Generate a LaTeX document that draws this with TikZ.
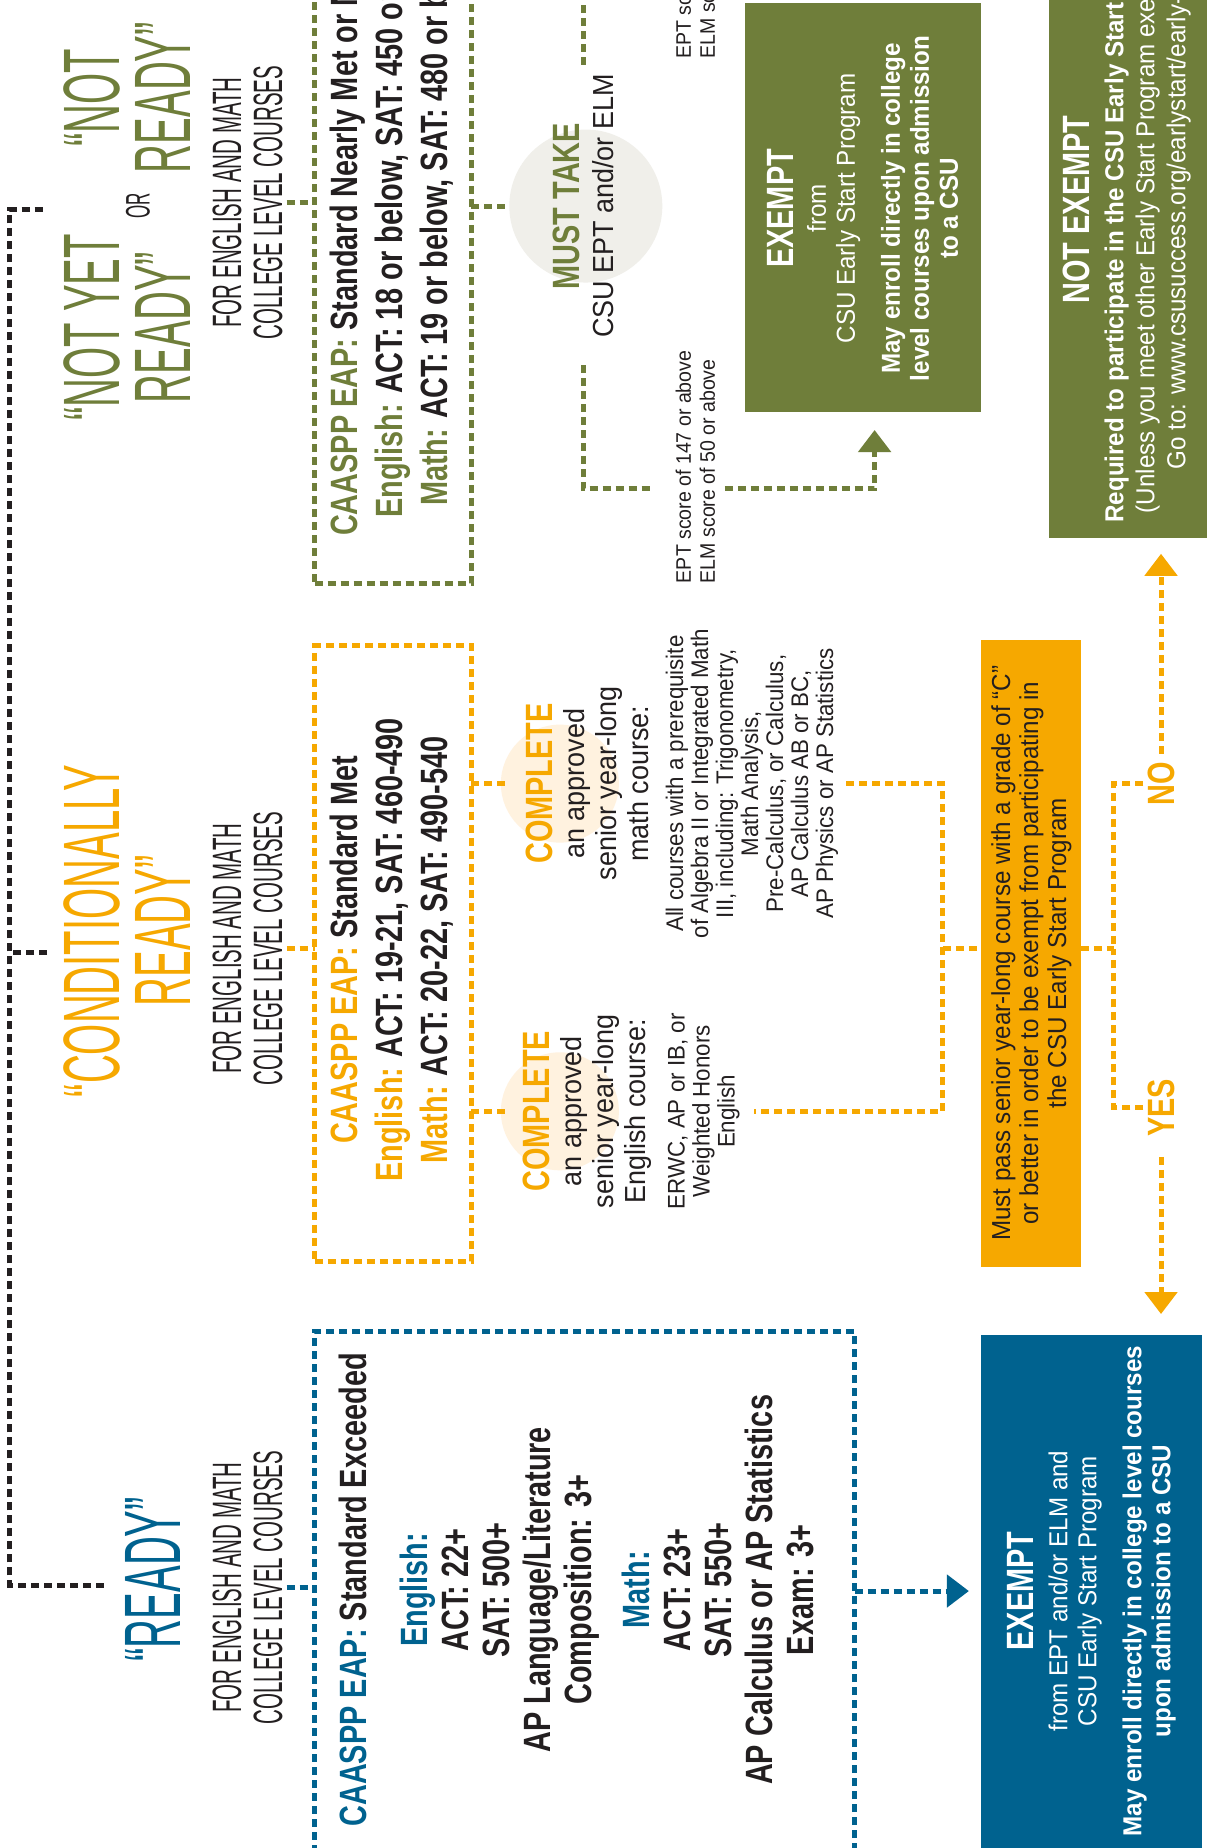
\documentclass[tikz,border=0pt]{standalone}
\usepackage{fontspec}
\setmainfont[FakeStretch=0.93]{Liberation Sans}
\newfontfamily\handfont[FakeStretch=0.5]{Liberation Sans}
\newfontfamily\condfont[FakeStretch=0.76]{Liberation Sans}
\usetikzlibrary{arrows.meta}
\definecolor{eapgreen}{HTML}{6F7E3A}
\definecolor{eaporange}{HTML}{F6A800}
\definecolor{eapblue}{HTML}{00628F}
\definecolor{eapblack}{HTML}{231F20}
\definecolor{mustgray}{HTML}{F0EFEA}
\definecolor{cmplight}{HTML}{FFF2DF}
\newcommand\headword[2]{{\condfont\bfseries\fontsize{38}{40}\selectfont\color{#1}#2}}
\tikzset{
  dashln/.style={line width=5pt, dash pattern=on 8pt off 5pt},
  arrowtip/.style={-{Triangle[width=32pt,length=22pt]}},
  titletxt/.style={inner sep=0pt, align=center, font=\handfont\fontsize{80}{71}\selectfont},
  subtxt/.style={inner sep=0pt, align=center, text=eapblack, font=\handfont\fontsize{41}{41}\selectfont},
  eaptxt/.style={inner sep=0pt, text=eapblack, font=\condfont\bfseries\fontsize{38}{45}\selectfont},
  bodytxt/.style={inner sep=0pt, align=center, text=eapblack},
  whitetxt/.style={inner sep=0pt, align=center, text=white},
}

\begin{document}
\begin{tikzpicture}
	%%%%% START %%%%%
	\useasboundingbox (0,0) rectangle (1207pt,1848pt);
	\fill[white] (0,0) rectangle (1207pt,1848pt);
	\begin{scope}[rotate=90, transform shape, x=1.1787pt, y=1.1787pt]
	\clip (0,-1024) rectangle (1568,0);
	
	% headings
	\node[titletxt, text=eapblue] (titleR) at (228,-130) {“READY”};
	\node[titletxt, text=eaporange] (titleCR) at (778,-108) {“CONDITIONALLY\\READY”};
	\node[titletxt, text=eapgreen] (titleNYR) at (1290,-108) {“NOT YET\\READY”};
	\node[inner sep=0pt, text=eapblack, font=\handfont\fontsize{34}{34}\selectfont] (titleOR) at (1393,-117) {OR};
	\node[titletxt, text=eapgreen] (titleNR) at (1485,-108) {“NOT\\READY”};
	
	\node[subtxt] (subR) at (221,-210) {FOR ENGLISH AND MATH\\COLLEGE LEVEL COURSES};
	\node[subtxt] (subCR) at (763,-210) {FOR ENGLISH AND MATH\\COLLEGE LEVEL COURSES};
	\node[subtxt] (subNR) at (1396,-210) {FOR ENGLISH AND MATH\\COLLEGE LEVEL COURSES};
	
	% black bar over the three columns
	\coordinate (bar) at (0,-8);
	\coordinate (tickR) at (223,-88);
	\coordinate (tickCR) at (760,-40);
	\coordinate (tickNR) at (1390,-40);
	\draw[dashln, eapblack] (tickR) |- (tickNR |- bar) -- (tickNR);
	\draw[dashln, eapblack] (tickCR) -- (tickCR |- bar);
	
	% dashed score boxes
	\coordinate (bxRa) at (-30,-267); \coordinate (bxRb) at (438,-725);
	\coordinate (bxCRa) at (498,-267); \coordinate (bxCRb) at (1020,-400);
	\coordinate (bxNRa) at (1073,-267); \coordinate (bxNRb) at (1600,-400);
	\draw[dashln, eapblue] (bxRa) rectangle (bxRb);
	\draw[dashln, eaporange] (bxCRa) rectangle (bxCRb);
	\draw[dashln, eapgreen] (bxNRa) rectangle (bxNRb);
	
	\draw[dashln, eapblue] ([yshift=-4pt]subR.south) -- (subR.south |- bxRa);
	\draw[dashln, eaporange] ([yshift=-4pt]subCR.south) -- (subCR.south |- bxCRa);
	\draw[dashln, eapgreen] ([yshift=-4pt]subNR.south) -- (subNR.south |- bxNRa);
	
	\node[eaptxt, align=center, font=\condfont\bfseries\fontsize{38}{41}\selectfont] (txtR) at (219,-489) {\textcolor{eapblue}{CAASPP EAP:} Standard Exceeded\\[20pt]
		\textcolor{eapblue}{English:}\\ ACT: 22+\\ SAT: 500+\\ AP Language/Literature\\ Composition: 3+\\[17pt]
		\textcolor{eapblue}{Math:}\\ ACT: 23+\\ SAT: 550+\\ AP Calculus or AP Statistics\\ Exam: 3+};
	\node[eaptxt, align=center] (txtCR) at (762,-332) {\textcolor{eaporange}{CAASPP EAP:} Standard Met\\
		\textcolor{eaporange}{English:}\hspace{10pt}ACT: 19-21, SAT: 460-490\\
		\textcolor{eaporange}{Math:}\hspace{10pt}ACT: 20-22, SAT: 490-540};
	\node[eaptxt, align=left, anchor=west] (txtNR) at (1113,-332) {\textcolor{eapgreen}{CAASPP EAP:} Standard Nearly Met or Not Met\\
		\hspace*{18pt}\textcolor{eapgreen}{English:}\hspace{10pt}ACT: 18 or below, SAT: 450 or below\\
		\hspace*{30pt}\textcolor{eapgreen}{Math:}\hspace{10pt}ACT: 19 or below, SAT: 480 or below};
	
	% ready column
	\coordinate (arrR) at (218,-725);
	\coordinate (exRtop) at (218,-822);
	\draw[dashln, eapblue, arrowtip] (arrR) -- (exRtop);
	\fill[eapblue] (-30,-832) rectangle (435,-1020);
	\node[whitetxt, font=\fontsize{26}{29}\selectfont] (exR) at (218,-926) {\headword{white}{EXEMPT}\\[5pt]
		from EPT and/or ELM and\\ CSU Early Start Program\\[16pt]
		\textbf{May enroll directly in college level courses}\\ \textbf{upon admission to a CSU}};
	
	% conditionally ready column
	\node[circle, fill=cmplight, minimum size=118pt, inner sep=0pt] (cmpM) at (903,-475) {};
	\node[circle, fill=cmplight, minimum size=118pt, inner sep=0pt] (cmpE) at (625,-475) {};
	\draw[dashln, eaporange] (cmpM.north |- bxCRb) -- ([yshift=-6pt]cmpM.north);
	\draw[dashln, eaporange] (cmpE.north |- bxCRb) -- ([yshift=-6pt]cmpE.north);
	\node[bodytxt, font=\fontsize{29}{32}\selectfont] (cmpMt) at (903,-498) {\headword{eaporange}{COMPLETE}\\ an approved\\ senior year-long\\ math course:};
	\node[bodytxt, font=\fontsize{29}{32}\selectfont] (cmpEt) at (625,-498) {\headword{eaporange}{COMPLETE}\\ an approved\\ senior year-long\\ English course:};
	\node[bodytxt, font=\fontsize{24}{25}\selectfont] (crsM) at (903,-638) {All courses with a prerequisite\\ of Algebra II or Integrated Math\\ III, including: Trigonometry,\\ Math Analysis,\\ Pre-Calculus, or Calculus,\\ AP Calculus AB or BC,\\ AP Physics or AP Statistics};
	\node[bodytxt, font=\fontsize{24}{25}\selectfont] (crsE) at (625,-597) {ERWC, AP or IB, or\\ Weighted Honors\\ English};
	
	\coordinate (joinC) at (763,-800);
	\draw[dashln, eaporange] ([yshift=-8pt]crsM.south) |- (joinC) -| ([yshift=-14pt]crsE.south);
	\fill[eaporange] (493,-832) rectangle (1025,-917);
	\draw[dashln, eaporange] (joinC) -- (763,-832);
	\node[bodytxt, font=\fontsize{26}{28}\selectfont] (passT) at (759,-875) {Must pass senior year-long course with a grade of “C”\\ or better in order to be exempt from participating in\\ the CSU Early Start Program};
	
	\coordinate (splitC) at (763,-945);
	\node[eaptxt, text=eaporange] (noL) at (903,-985) {NO};
	\node[eaptxt, text=eaporange] (yesL) at (628,-985) {YES};
	\draw[dashln, eaporange] (763,-917) -- (splitC);
	\draw[dashln, eaporange] ([yshift=4pt]noL.north) |- (splitC);
	\draw[dashln, eaporange] ([yshift=4pt]yesL.north) |- (splitC);
	\coordinate (noEnd) at (1098,-985);
	\coordinate (yesEnd) at (453,-985);
	\draw[dashln, eaporange, arrowtip] ([xshift=8pt]noL.east) -- (noEnd);
	\draw[dashln, eaporange, arrowtip] ([xshift=-20pt]yesL.west) -- (yesEnd);
	
	% not ready column
	\node[circle, fill=mustgray, minimum size=153pt, inner sep=0pt] (mustC) at (1393,-497) {};
	\draw[dashln, eapgreen] (mustC.north |- bxNRb) -- (mustC.north);
	\node[bodytxt, font=\fontsize{29}{34}\selectfont] (mustT) at (1393,-495) {\headword{eapgreen}{MUST TAKE}\\ CSU EPT and/or ELM};
	
	\node[bodytxt, align=left, anchor=west, font=\fontsize{21}{24}\selectfont] (eptPass) at (1073,-590) {EPT score of 147 or above\\ELM score of 50 or above};
	\node[bodytxt, align=left, anchor=west, font=\fontsize{21}{24}\selectfont] (eptFail) at (1518,-590) {EPT score of 146 or below\\ELM score of 49 or below};
	\coordinate (gA) at (1258,-495);
	\coordinate (gB) at (1153,-555);
	\coordinate (gC) at (1153,-615);
	\coordinate (gD) at (1203,-742);
	\draw[dashln, eapgreen] (gA) -| (gB);
	\draw[dashln, eapgreen, arrowtip] (gC) |- (gD);
	\draw[dashln, eapgreen] (1513,-495) -- (1600,-495);
	
	\fill[eapgreen] (1218,-632) rectangle (1565,-832);
	\node[whitetxt, font=\fontsize{26}{29}\selectfont] (exG) at (1391,-732) {\headword{white}{EXEMPT}\\[3pt]
		from\\ CSU Early Start Program\\[16pt]
		\textbf{May enroll directly in college}\\ \textbf{level courses upon admission}\\ \textbf{to a CSU}};
	
	\fill[eapgreen] (1111,-890) rectangle (1600,-1040);
	\node[whitetxt, font=\fontsize{26}{31}\selectfont] (notEx) at (1390,-956) {\headword{white}{NOT EXEMPT}\\[3pt]
		\textbf{Required to participate in the CSU Early Start Program}\\
		(Unless you meet other Early Start Program exemptions)\\
		Go to: www.csusuccess.org/earlystart/early-start};
	
	\end{scope}
	%%%%% END %%%%%
\end{tikzpicture}
\end{document}
